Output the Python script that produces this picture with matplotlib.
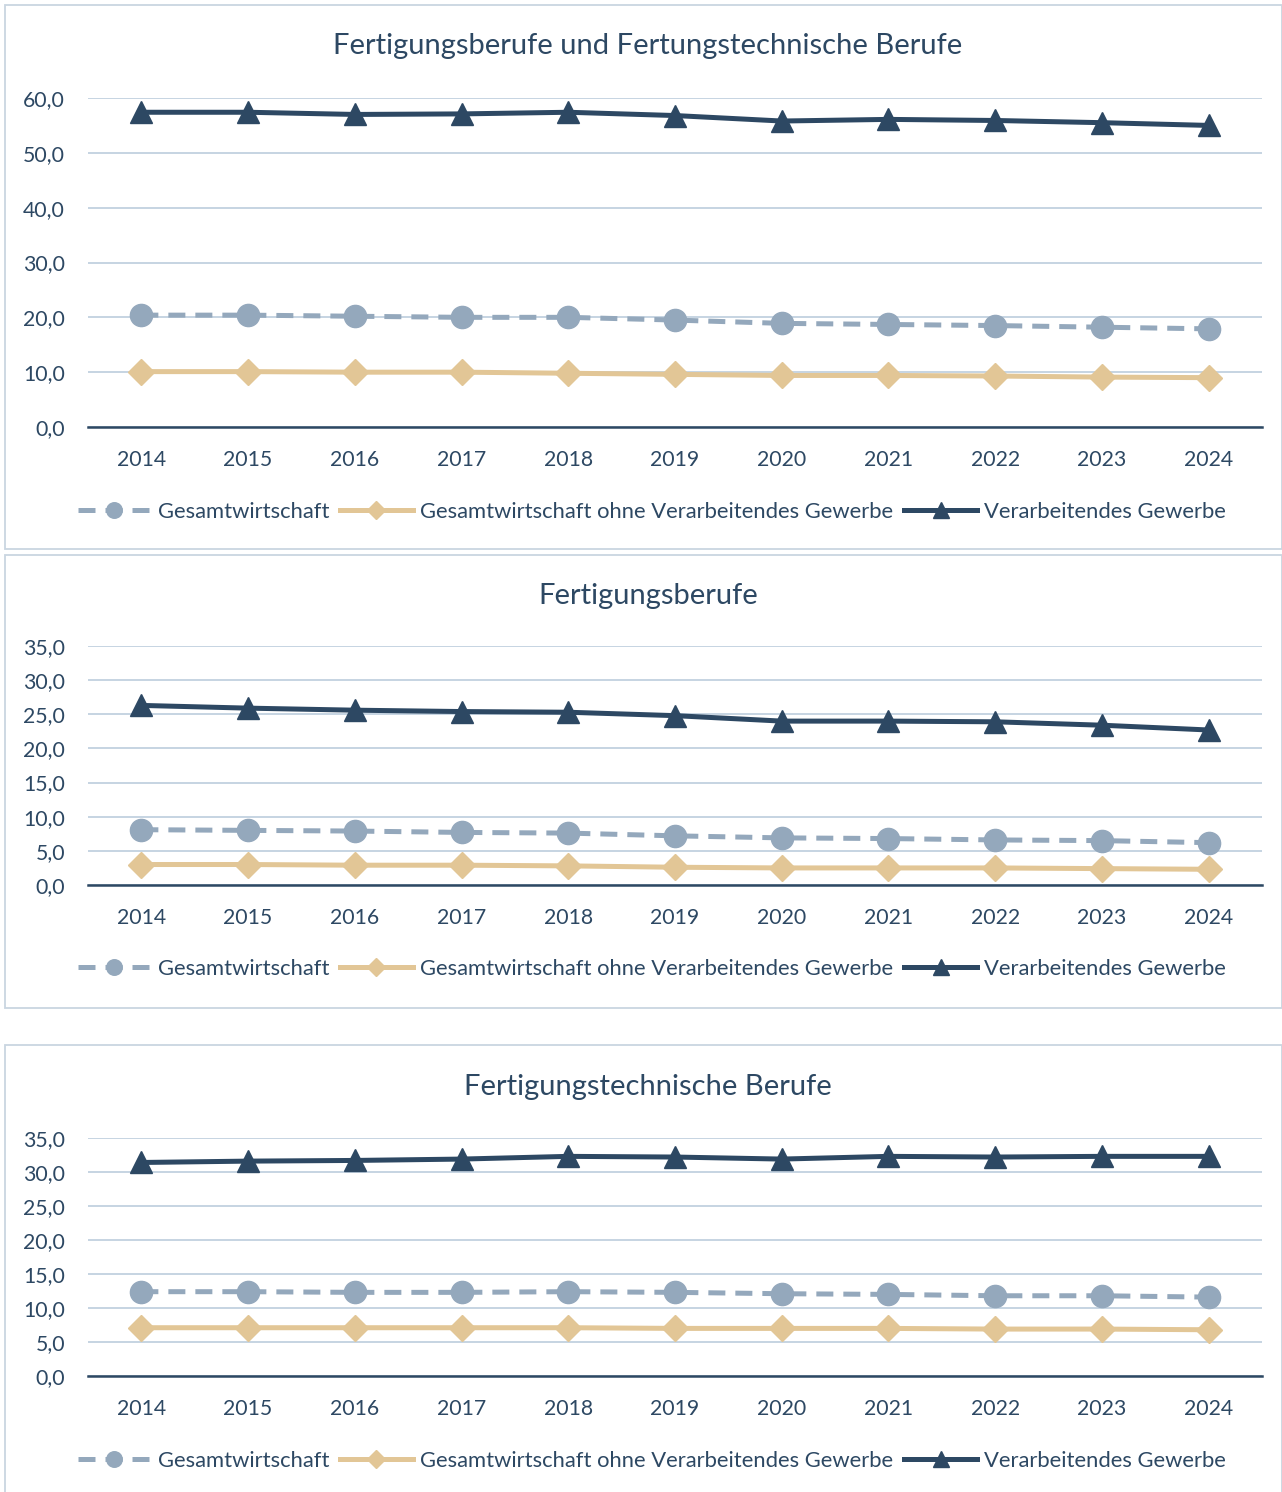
import matplotlib
matplotlib.use("Agg")
import matplotlib.pyplot as plt
from matplotlib.patches import Rectangle
from matplotlib.ticker import FuncFormatter, MultipleLocator

plt.rcParams['font.family'] = ['Lato', 'DejaVu Sans']

years = ['2014', '2015', '2016', '2017', '2018', '2019', '2020', '2021', '2022', '2023', '2024']
series_names = ['Gesamtwirtschaft', 'Gesamtwirtschaft ohne Verarbeitendes Gewerbe', 'Verarbeitendes Gewerbe']

titles = ['Fertigungsberufe und Fertungstechnische Berufe', 'Fertigungsberufe', 'Fertigungstechnische Berufe']

# panel 1: Fertigungsberufe und Fertungstechnische Berufe
p1_gesamt = [20.4, 20.4, 20.2, 20.0, 20.0, 19.5, 18.9, 18.7, 18.5, 18.2, 17.9]
p1_ohne_vg = [10.1, 10.1, 10.0, 10.0, 9.8, 9.6, 9.4, 9.4, 9.3, 9.1, 9.0]
p1_vg = [57.4, 57.4, 57.0, 57.1, 57.4, 56.8, 55.8, 56.1, 55.9, 55.5, 55.0]

# panel 2: Fertigungsberufe
p2_gesamt = [8.1, 8.0, 7.9, 7.7, 7.6, 7.2, 6.9, 6.8, 6.6, 6.5, 6.2]
p2_ohne_vg = [3.0, 3.0, 2.9, 2.9, 2.8, 2.6, 2.5, 2.5, 2.5, 2.4, 2.3]
p2_vg = [26.3, 25.9, 25.6, 25.4, 25.3, 24.8, 24.0, 24.0, 23.9, 23.4, 22.7]

# panel 3: Fertigungstechnische Berufe
p3_gesamt = [12.4, 12.4, 12.3, 12.3, 12.4, 12.3, 12.1, 12.0, 11.8, 11.8, 11.6]
p3_ohne_vg = [7.1, 7.1, 7.1, 7.1, 7.1, 7.0, 7.0, 7.0, 6.9, 6.9, 6.8]
p3_vg = [31.4, 31.6, 31.7, 31.9, 32.3, 32.2, 31.9, 32.3, 32.2, 32.3, 32.3]

W, H = 1282, 1492
NAVY = '#2d4863'
GREY = '#94a8bc'
TAN = '#e2c696'
GRID = '#c6d4e2'
BOX = '#c9d5e1'

fig = plt.figure(figsize=(W / 100, H / 100), dpi=100)

def px_rect(x0, y0, x1, y1):
    return [x0 / W, 1 - y1 / H, (x1 - x0) / W, (y1 - y0) / H]

def fmt(v, pos):
    return ('%.1f' % v).replace('.', ',')

def panel(box, plot, title_y, legend_y, ymax, step, title, gesamt, ohne, vg):
    fig.patches.append(Rectangle((box[0] / W, 1 - box[3] / H), (box[2] - box[0]) / W, (box[3] - box[1]) / H,
                                 transform=fig.transFigure, fill=False, edgecolor=BOX, lw=1.3))
    ax = fig.add_axes(px_rect(*plot))
    x = range(len(years))
    ax.plot(x, gesamt, color=GREY, lw=3.6, ls=(0, (3.4, 2.0)), marker='o', ms=16, label=series_names[0])
    ax.plot(x, ohne, color=TAN, lw=3.6, marker='D', ms=13, label=series_names[1])
    ax.plot(x, vg, color=NAVY, lw=3.6, marker='^', ms=16, label=series_names[2])
    ax.set_xlim(-0.5, len(years) - 0.5)
    ax.set_ylim(0, ymax)
    ax.yaxis.set_major_locator(MultipleLocator(step))
    ax.yaxis.set_major_formatter(FuncFormatter(fmt))
    ax.set_xticks(list(x))
    ax.set_xticklabels(years)
    ax.grid(axis='y', color=GRID, lw=1.4)
    ax.set_axisbelow(True)
    for s in ['top', 'left', 'right']:
        ax.spines[s].set_visible(False)
    ax.spines['bottom'].set_color(NAVY)
    ax.spines['bottom'].set_linewidth(1.8)
    ax.tick_params(axis='both', length=0, labelsize=15.3, labelcolor=NAVY)
    ax.tick_params(axis='y', pad=16.5)
    ax.tick_params(axis='x', pad=16.5)
    fig.text(648 / W, 1 - title_y / H, title, ha='center', va='center', fontsize=21, color=NAVY)
    fig.legend(*ax.get_legend_handles_labels(), loc='center', bbox_to_anchor=(652 / W, 1 - legend_y / H),
               ncol=3, frameon=False, fontsize=15.8, labelcolor=NAVY, handlelength=3.3, handletextpad=0.35,
               columnspacing=0.5, markerscale=0.7)
    return ax

panel((5, 5, 1282, 549), (88, 98, 1262, 427), 46, 512, 60, 10, titles[0], p1_gesamt, p1_ohne_vg, p1_vg)
panel((5, 555, 1282, 1008), (88, 646, 1262, 885), 596, 969, 35, 5, titles[1], p2_gesamt, p2_ohne_vg, p2_vg)
panel((5, 1045, 1282, 1500), (88, 1138, 1262, 1376), 1087, 1461, 35, 5, titles[2], p3_gesamt, p3_ohne_vg, p3_vg)

fig.savefig('out.png', dpi=100)
